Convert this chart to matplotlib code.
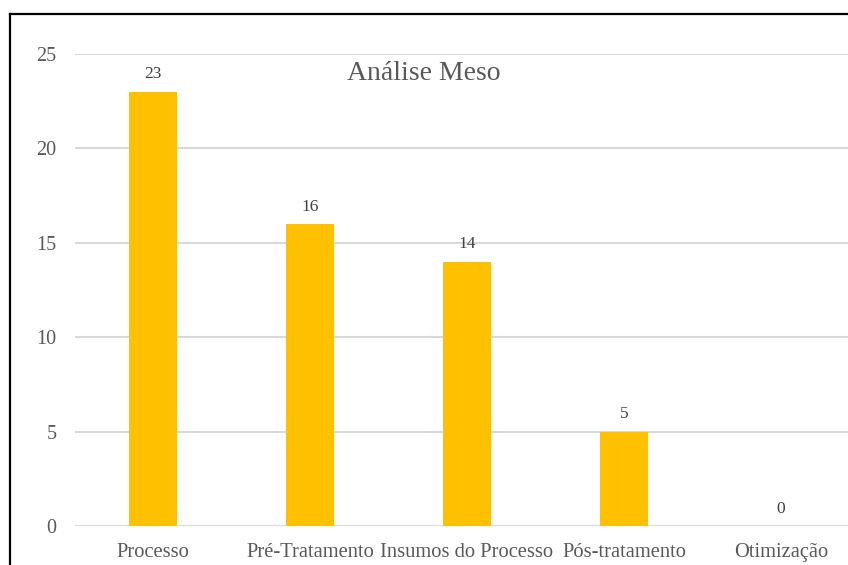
import matplotlib
matplotlib.use("Agg")
import matplotlib.pyplot as plt
from matplotlib.lines import Line2D

categorias = ["Processo", "Pré-Tratamento", "Insumos do Processo", "Pós-tratamento", "Otimização"]
valores = [23, 16, 14, 5, 0]
yticks = [0, 5, 10, 15, 20, 25]

plt.rcParams["font.family"] = ["Liberation Serif", "DejaVu Serif"]

W, H = 848, 565
fig = plt.figure(figsize=(W / 100, H / 100), dpi=100)
# axes runs past the right edge (reference chart is cropped)
ax = fig.add_axes([74.5 / W, (H - 526) / H, (859.5 - 74.5) / W, (526 - 54) / H])

x = list(range(len(categorias)))
ax.bar(x, valores, width=0.31, color="#FFC000", zorder=3)
for xi, v in zip(x, valores):
    ax.annotate(str(v), (xi, v), xytext=(0, 12.5), textcoords="offset points",
                ha="center", va="center", fontsize=12.5, color="#404040")

ax.set_xlim(-0.5, len(categorias) - 0.5)
ax.set_ylim(0, 25)
ax.set_yticks(yticks)
ax.set_xticks(x)
ax.set_xticklabels(categorias)
ax.yaxis.grid(True, color="#d9d9d9", lw=1.5, zorder=0)
ax.set_axisbelow(True)
for s in ax.spines.values():
    s.set_visible(False)
ax.tick_params(axis="y", length=0, pad=13, labelsize=14.5, labelcolor="#595959")
ax.tick_params(axis="x", length=0, pad=12, labelsize=14.8, labelcolor="#595959")

fig.text(424 / W, (H - 74) / H, "Análise Meso", ha="center", va="center",
         fontsize=20, color="#595959")

# chart border (left and top visible only)
fig.add_artist(Line2D([10 / W, 10 / W], [0, (H - 13.5) / H], color="black", lw=1.6,
                      transform=fig.transFigure))
fig.add_artist(Line2D([10 / W, 1], [(H - 13.5) / H, (H - 13.5) / H], color="black", lw=1.6,
                      transform=fig.transFigure))

fig.savefig("out.png", dpi=100)
